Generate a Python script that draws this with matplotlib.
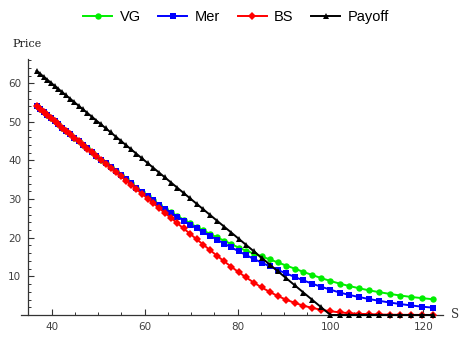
import matplotlib
matplotlib.use("Agg")
import matplotlib.pyplot as plt
from matplotlib.ticker import MultipleLocator

S = [36.79, 37.53, 38.29, 39.06, 39.85, 40.66, 41.48, 42.32, 43.17, 44.04,
     44.93, 45.84, 46.77, 47.71, 48.68, 49.66, 50.66, 51.69, 52.73, 53.79,
     54.88, 55.99, 57.12, 58.27, 59.45, 60.65, 61.88, 63.13, 64.40, 65.70,
     67.03, 68.39, 69.77, 71.18, 72.61, 74.08, 75.58, 77.11, 78.66, 80.25,
     81.87, 83.53, 85.21, 86.94, 88.69, 90.48, 92.31, 94.18, 96.08, 98.02,
     100.00, 102.02, 104.08, 106.18, 108.33, 110.52, 112.75, 115.03, 117.35, 119.72,
     122.14]

vg = [54.01, 53.27, 52.52, 51.75, 50.96, 50.15, 49.33, 48.50, 47.65, 46.79,
      45.90, 45.00, 44.08, 43.15, 42.20, 41.23, 40.25, 39.24, 38.23, 37.21,
      36.17, 35.11, 34.05, 32.98, 31.89, 30.80, 29.69, 28.57, 27.55, 26.60,
      25.65, 24.70, 23.75, 22.80, 21.90, 21.00, 20.10, 19.25, 18.35, 17.45,
      16.65, 15.90, 15.15, 14.40, 13.60, 12.80, 12.00, 11.15, 10.35, 9.55,
      8.80, 8.11, 7.49, 6.92, 6.37, 5.91, 5.46, 5.04, 4.67, 4.36,
      4.06]

mer = [54.01, 53.27, 52.52, 51.75, 50.96, 50.15, 49.33, 48.50, 47.65, 46.79,
       45.90, 45.00, 44.08, 43.15, 42.20, 41.23, 40.25, 39.24, 38.23, 37.21,
       36.17, 35.11, 34.05, 32.98, 31.89, 30.80, 29.69, 28.60, 27.52, 26.47,
       25.45, 24.45, 23.40, 22.40, 21.45, 20.50, 19.50, 18.50, 17.50, 16.50,
       15.50, 14.50, 13.55, 12.60, 11.65, 10.75, 9.85, 8.95, 8.10, 7.30,
       6.55, 5.80, 5.18, 4.64, 4.12, 3.66, 3.23, 2.83, 2.47, 2.15,
       1.90]

bs = [54.01, 53.27, 52.51, 51.74, 50.95, 50.14, 49.32, 48.48, 47.63, 46.76,
      45.87, 44.96, 44.03, 43.09, 42.12, 41.14, 40.14, 39.11, 38.07, 37.01,
      35.92, 34.81, 33.68, 32.53, 31.35, 30.15, 28.92, 27.67, 26.40, 25.10,
      23.77, 22.42, 21.04, 19.64, 18.24, 16.80, 15.36, 13.91, 12.49, 11.08,
      9.71, 8.37, 7.13, 5.97, 4.90, 3.96, 3.13, 2.41, 1.83, 1.34,
      0.96, 0.68, 0.46, 0.31, 0.21, 0.13, 0.08, 0.05, 0.03, 0.02,
      0.01]

payoff = [63.21, 62.47, 61.71, 60.94, 60.15, 59.34, 58.52, 57.68, 56.83, 55.96,
          55.07, 54.16, 53.23, 52.29, 51.32, 50.34, 49.34, 48.31, 47.27, 46.21,
          45.12, 44.01, 42.88, 41.73, 40.55, 39.35, 38.12, 36.87, 35.60, 34.30,
          32.97, 31.61, 30.23, 28.82, 27.39, 25.92, 24.42, 22.89, 21.34, 19.75,
          18.13, 16.47, 14.79, 13.06, 11.31, 9.52, 7.69, 5.82, 3.92, 1.98,
          0.00, 0.00, 0.00, 0.00, 0.00, 0.00, 0.00, 0.00, 0.00, 0.00,
          0.00]

series = [("VG", vg, "#00ee00", "o", 4.6),
          ("Mer", mer, "#0000ff", "s", 4.3),
          ("BS", bs, "#ff0000", "D", 4.0),
          ("Payoff", payoff, "#000000", "^", 4.6)]

fig = plt.figure(figsize=(4.72, 3.40), dpi=100)
ax = fig.add_axes([28.3 / 472, 1 - 315 / 340, 414.7 / 472, 255.7 / 340])

for name, vals, col, mk, ms in series:
    ax.plot(S, vals, color=col, lw=1.4, marker=mk, markersize=ms,
            markeredgewidth=0, label=name, clip_on=False, zorder=3)

ax.set_xlim(35, 124.2)
ax.set_ylim(0, 66.2)
for sp in ("top", "right"):
    ax.spines[sp].set_visible(False)
for sp in ("left", "bottom"):
    ax.spines[sp].set_linewidth(0.9)
    ax.spines[sp].set_color("#333333")
ax.spines["bottom"].set_bounds(33.5, 124.2)

ax.xaxis.set_major_locator(MultipleLocator(20))
ax.xaxis.set_minor_locator(MultipleLocator(5))
ax.yaxis.set_major_locator(MultipleLocator(10))
ax.yaxis.set_minor_locator(MultipleLocator(2))
ax.set_yticks([10, 20, 30, 40, 50, 60])
ax.tick_params(which="major", direction="in", length=4, width=0.8,
               color="#333333", labelsize=7.5, labelcolor="#404040", pad=5)
ax.tick_params(which="minor", direction="in", length=2.2, width=0.7,
               color="#333333")
for lab in ax.get_xticklabels() + ax.get_yticklabels():
    lab.set_fontfamily("DejaVu Sans")

fig.text(27 / 472, 1 - 44 / 340, "Price", ha="center", va="center",
         fontsize=8, family="DejaVu Serif", color="#222222")
fig.text(455 / 472, 1 - 315 / 340, "S", ha="center", va="center",
         fontsize=8.5, family="DejaVu Serif", color="#333333")

leg = fig.legend(loc="upper center", bbox_to_anchor=(0.5, 1.01), ncol=4,
                 frameon=False, handlelength=2.0,
                 handletextpad=0.5, columnspacing=1.2,
                 prop={"family": "Liberation Sans", "size": 10.5})

fig.savefig("out.png", dpi=100)
